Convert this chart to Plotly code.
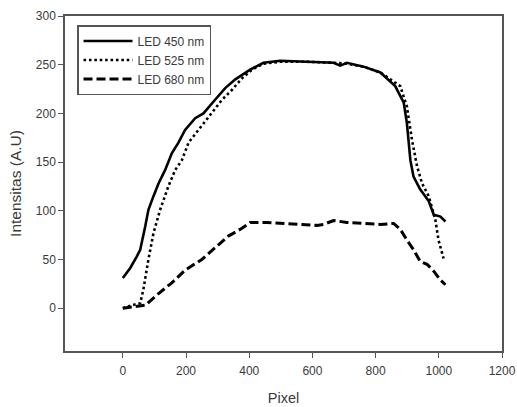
import plotly.graph_objects as go

# LED 450 nm (solid)
x450 = [0, 23, 44, 55, 71, 81, 97, 113, 134, 155, 176, 197, 229, 255, 292, 324, 356, 403, 445, 498,
        583, 667, 688, 709, 762, 815, 862, 889, 899, 910, 920, 941, 968, 984, 1005, 1021]
y450 = [31, 41, 53, 60, 84, 101, 115, 128, 142, 159, 170, 183, 195, 200, 214, 226, 235, 245, 252, 254,
        253, 252, 249, 252, 248, 242, 228, 211, 190, 152, 135, 122, 110, 96, 94, 89]

# LED 525 nm (dotted)
x525 = [0, 28, 55, 65, 81, 97, 118, 144, 166, 187, 208, 239, 276, 314, 345, 377, 409, 445, 498,
        583, 667, 709, 762, 815, 878, 899, 915, 931, 947, 968, 989, 999, 1015]
y525 = [0, 3, 5, 19, 50, 77, 101, 125, 142, 152, 170, 183, 199, 214, 224, 236, 245, 251, 253,
        253, 252, 251, 248, 242, 228, 207, 173, 146, 128, 115, 91, 70, 51]

# LED 680 nm (dashed)
x680 = [0, 39, 71, 113, 155, 197, 250, 292, 334, 377, 403, 456, 509, 561, 614, 635, 667, 709, 762,
        815, 857, 878, 899, 920, 941, 963, 984, 1005, 1021]
y680 = [0, 2, 3, 15, 26, 39, 50, 62, 74, 82, 88, 88, 87, 86, 85, 86, 90, 88, 87,
        86, 87, 81, 70, 60, 48, 45, 38, 29, 24]

series_names = ["LED 450 nm", "LED 525 nm", "LED 680 nm"]

FONT = "Liberation Sans, Arial, sans-serif"
TXT = "#3a3a3a"
AX = "#555555"

fig = go.Figure()
fig.add_trace(go.Scatter(x=x450, y=y450, mode="lines", name=series_names[0],
                         line=dict(color="black", width=2.6, shape="linear")))
fig.add_trace(go.Scatter(x=x525, y=y525, mode="lines", name=series_names[1],
                         line=dict(color="black", width=2.6, dash="2.6px,2.8px")))
fig.add_trace(go.Scatter(x=x680, y=y680, mode="lines", name=series_names[2],
                         line=dict(color="black", width=3, dash="9px,4px")))

axis_common = dict(
    showgrid=False, zeroline=False, showline=True, linecolor=AX, linewidth=1.5,
    mirror=True, ticks="outside", ticklen=5, tickwidth=1.3, tickcolor=AX,
    tickfont=dict(family=FONT, size=12, color=TXT),
)

fig.update_layout(
    width=517, height=407,
    margin=dict(l=65, r=15, t=16, b=56),
    paper_bgcolor="white", plot_bgcolor="white",
    font=dict(family=FONT, color=TXT),
    xaxis=dict(range=[-183, 1200], tick0=0, dtick=200, automargin=False,
               ticklabelstandoff=3,
               title=dict(text="Pixel", font=dict(family=FONT, size=14.5, color=TXT), standoff=16),
               **axis_common),
    yaxis=dict(range=[-44, 300], tick0=0, dtick=50, automargin=False,
               title=dict(text="Intensitas (A.U)", font=dict(family=FONT, size=15.5, color=TXT), standoff=10),
               **axis_common),
    legend=dict(x=0.0275, y=0.973, xanchor="left", yanchor="top",
                bgcolor="white", bordercolor=AX, borderwidth=1.5,
                font=dict(family=FONT, size=12, color=TXT),
                itemwidth=49, tracegroupgap=0),
    showlegend=True,
)

fig.write_html("out.html")
